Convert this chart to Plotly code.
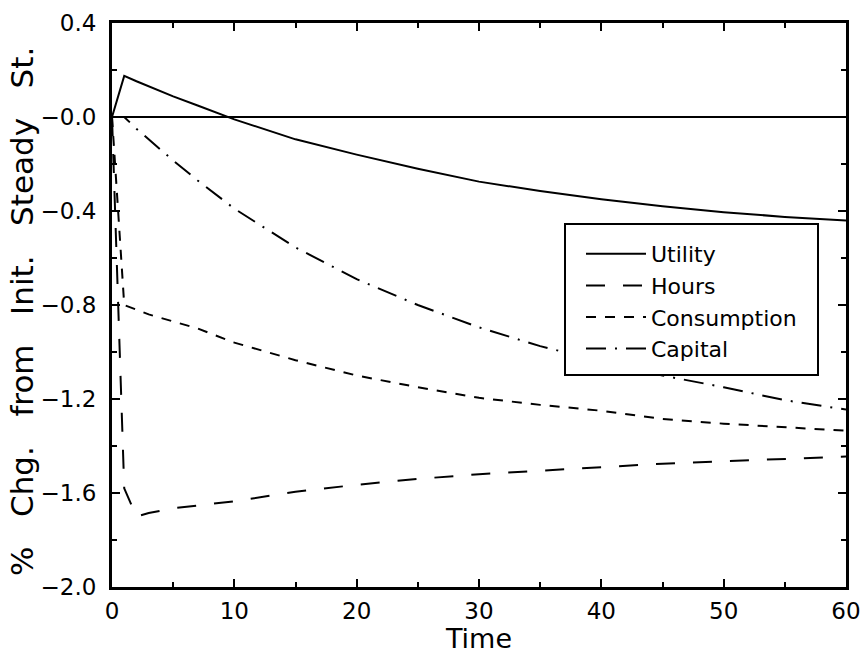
import plotly.graph_objects as go

# Data
time = [0, 1, 2, 3, 5, 7, 10, 15, 20, 25, 30, 35, 40, 45, 50, 55, 60]
utility = [0, 0.175, 0.152, 0.13, 0.088, 0.049, -0.01, -0.095, -0.16, -0.22,
           -0.275, -0.315, -0.35, -0.38, -0.405, -0.425, -0.44]
hours = [0, -1.58, -1.70, -1.685, -1.665, -1.652, -1.635, -1.595, -1.565, -1.54,
         -1.52, -1.505, -1.49, -1.475, -1.465, -1.455, -1.445]
consumption = [0, -0.80, -0.82, -0.84, -0.87, -0.90, -0.96, -1.035, -1.10, -1.15,
               -1.195, -1.225, -1.25, -1.285, -1.305, -1.32, -1.335]
capital = [0, 0, -0.05, -0.095, -0.185, -0.27, -0.39, -0.555, -0.69, -0.80,
           -0.895, -0.975, -1.04, -1.10, -1.15, -1.205, -1.245]

y_tickvals = [0.4, 0.0, -0.4, -0.8, -1.2, -1.6, -2.0]
y_ticktext = ["0.4", "\u22120.0", "\u22120.4", "\u22120.8", "\u22121.2", "\u22121.6", "\u22122.0"]
x_tickvals = [0, 10, 20, 30, 40, 50, 60]

FONT = "DejaVu Sans"
SP = "\u00a0\u00a0\u00a0"
y_title = SP.join(["%", "Chg.", "from", "Init.", "Steady", "St."])

fig = go.Figure()
series = [
    ("Utility", utility, "solid"),
    ("Hours", hours, "19px,18px"),
    ("Consumption", consumption, "10px,9px"),
    ("Capital", capital, "20px,9px,2px,9px"),
]
for name, vals, dash in series:
    fig.add_trace(go.Scatter(x=time, y=vals, mode="lines", name=name,
                             line=dict(color="black", width=2, dash=dash)))

# zero reference line
fig.add_shape(type="line", xref="x", yref="y", x0=0, x1=60, y0=0, y1=0,
              line=dict(color="black", width=2))
# legend box
fig.add_shape(type="rect", xref="paper", yref="paper",
              x0=(565 - 112) / 734, x1=(818 - 112) / 734,
              y0=(587 - 375) / 564, y1=(587 - 224) / 564,
              line=dict(color="black", width=2), fillcolor="white", layer="above")

# y-axis title as a rotated annotation for precise placement
fig.add_annotation(text=y_title, xref="paper", yref="paper",
                   x=(22 - 112) / 734, y=(587 - 312) / 564,
                   xanchor="center", yanchor="middle", textangle=-90,
                   showarrow=False, font=dict(family=FONT, size=31, color="black"))

axis_common = dict(
    showline=True, linecolor="black", linewidth=3, mirror="allticks",
    ticks="inside", ticklen=8, tickwidth=2, tickcolor="black",
    showgrid=False, zeroline=False, automargin=False,
    tickfont=dict(family=FONT, size=23, color="black"),
)

fig.update_xaxes(range=[0, 60], tickvals=x_tickvals, ticklabelstandoff=1,
                 minor=dict(ticks="inside", ticklen=5, tickwidth=2, dtick=5,
                            tick0=0, tickcolor="black", showgrid=False),
                 title=dict(text="Time", font=dict(family=FONT, size=27, color="black"),
                            standoff=11),
                 **axis_common)
fig.update_yaxes(range=[-2.0, 0.4], tickvals=y_tickvals, ticktext=y_ticktext,
                 ticklabelstandoff=8,
                 minor=dict(ticks="inside", ticklen=5, tickwidth=2, dtick=0.2,
                            tick0=0, tickcolor="black", showgrid=False),
                 **axis_common)

fig.update_layout(
    width=862, height=654,
    margin=dict(l=112, r=16, t=23, b=67),
    paper_bgcolor="white", plot_bgcolor="white",
    font=dict(family=FONT, color="black"),
    legend=dict(x=(581 - 112) / 734, y=(587 - 233) / 564, xanchor="left", yanchor="top",
                bgcolor="rgba(0,0,0,0)", borderwidth=0,
                font=dict(family=FONT, size=22, color="black"),
                itemwidth=60, tracegroupgap=0),
    showlegend=True,
)

fig.write_html("out.html", config={"displayModeBar": False},
               post_script="document.body.style.margin='0';document.body.style.overflow='hidden';")
